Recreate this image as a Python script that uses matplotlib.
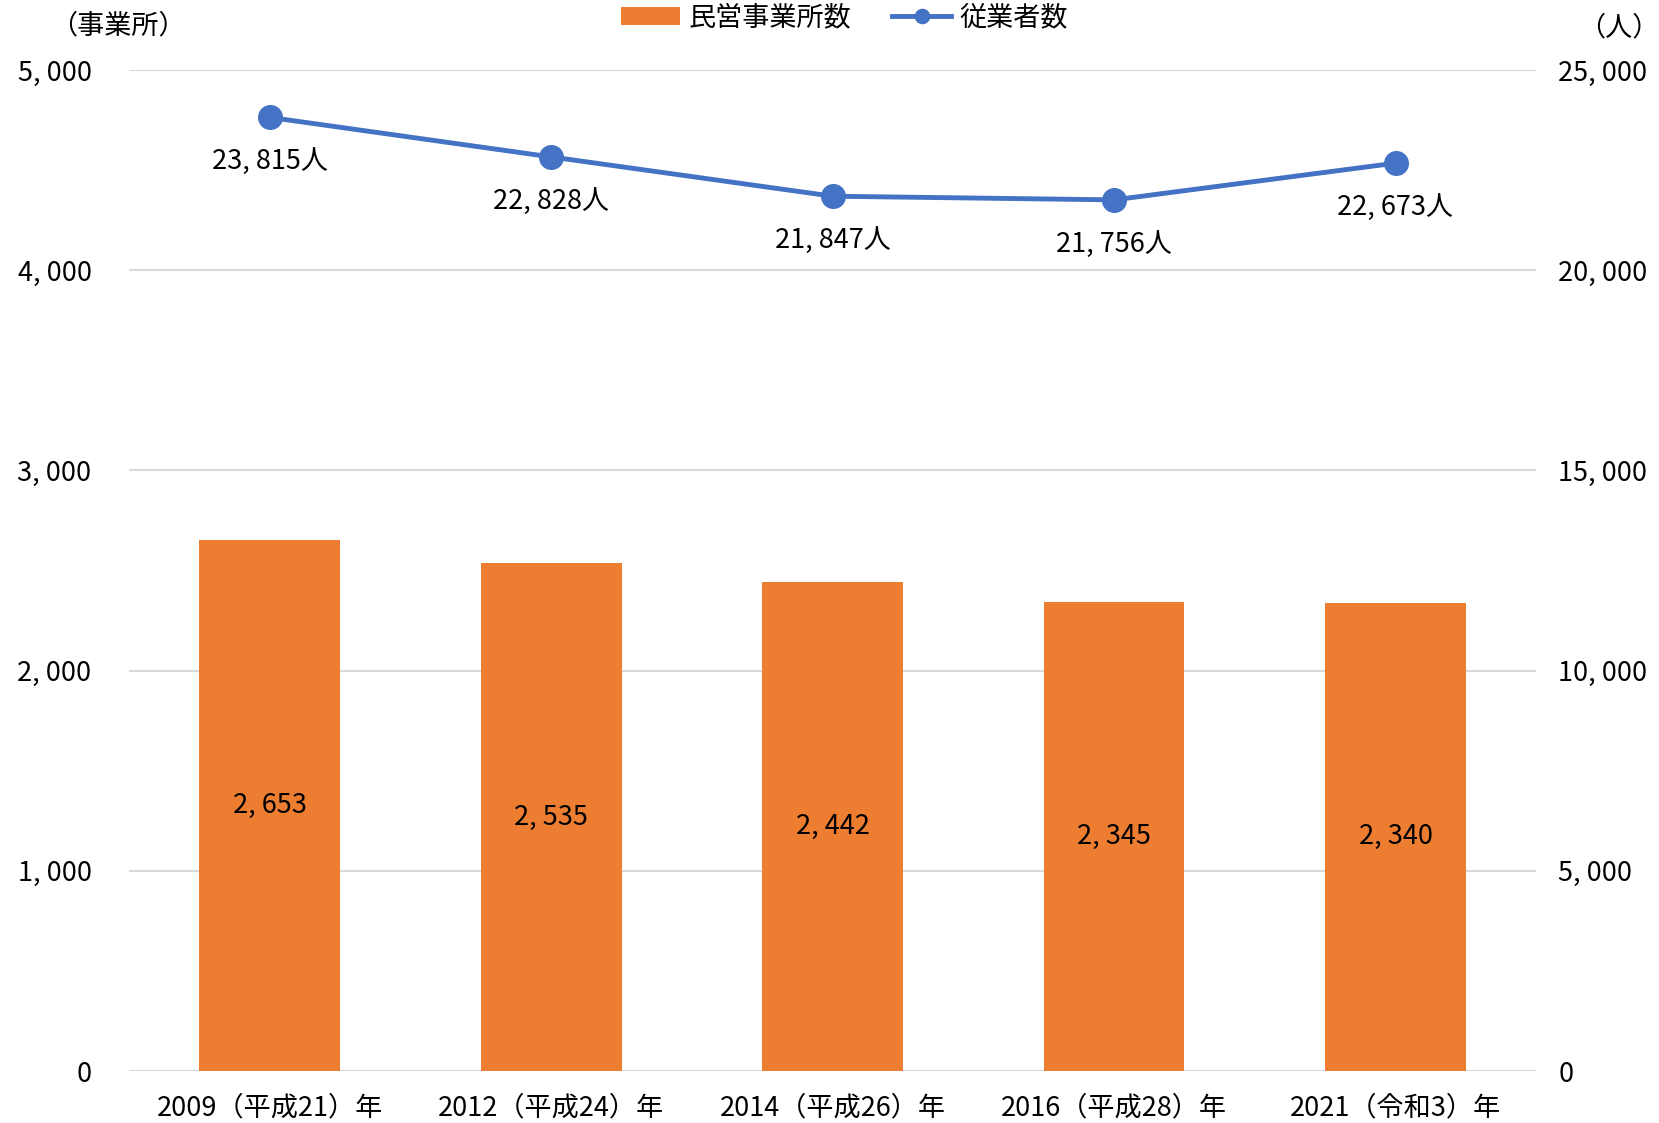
import matplotlib
matplotlib.use("Agg")
import matplotlib.pyplot as plt
from matplotlib.ticker import FuncFormatter

plt.rcParams["font.family"] = ["Noto Sans CJK JP", "DejaVu Sans"]

# data
years = ["2009（平成21）年", "2012（平成24）年", "2014（平成26）年", "2016（平成28）年", "2021（令和3）年"]
offices = [2653, 2535, 2442, 2345, 2340]
workers = [23815, 22828, 21847, 21756, 22673]

bar_color = "#ED7D31"
line_color = "#4472C4"
grid_color = "#D9D9D9"
fs = 19.5


def fmt(v):
    return f"{int(v):,}".replace(",", ", ")


fig = plt.figure(figsize=(16.59, 11.23), dpi=100)
ax = fig.add_axes([0.0778, 0.0463, 0.8482, 0.8914])
ax2 = ax.twinx()

x = list(range(len(years)))
ax.bar(x, offices, width=0.5, color=bar_color, zorder=2, label="民営事業所数")
for xi, v in zip(x, offices):
    ax.text(xi, v / 2, fmt(v), ha="center", va="center", fontsize=fs)

ax.set_ylim(0, 5000)
ax.set_yticks(range(0, 5001, 1000))
ax.yaxis.set_major_formatter(FuncFormatter(lambda v, p: fmt(v)))
ax.set_xlim(-0.5, len(years) - 0.5)
ax.set_xticks(x)
ax.set_xticklabels(years)
ax.grid(axis="y", color=grid_color, linewidth=1.5, zorder=0)
ax.set_axisbelow(True)

ax2.plot(x, workers, color=line_color, linewidth=3.5, marker="o", markersize=17,
         zorder=3, label="従業者数")
for xi, v in zip(x, workers):
    ax2.annotate(fmt(v) + "人", (xi, v), xytext=(0, -32), textcoords="offset points",
                 ha="center", va="center", fontsize=fs)
ax2.set_ylim(0, 25000)
ax2.set_yticks(range(0, 25001, 5000))
ax2.yaxis.set_major_formatter(FuncFormatter(lambda v, p: fmt(v)))

for a in (ax, ax2):
    for s in a.spines.values():
        s.set_visible(False)
    a.tick_params(length=0, labelsize=fs)
ax.tick_params(axis="y", pad=27)
ax2.tick_params(axis="y", pad=16)
ax.tick_params(axis="x", pad=17)
ax.axhline(0, color=grid_color, linewidth=2, zorder=1)

fig.text(0.071, 0.977, "（事業所）", ha="center", va="center", fontsize=fs)
fig.text(0.976, 0.975, "（人）", ha="center", va="center", fontsize=fs)

h1, l1 = ax.get_legend_handles_labels()
h2, l2 = ax2.get_legend_handles_labels()
fig.legend(h1 + h2, l1 + l2, loc="center", bbox_to_anchor=(0.509, 0.984), ncol=2,
           frameon=False, fontsize=fs, handlelength=2.2, handleheight=0.6,
           columnspacing=1.5, handletextpad=0.3, markerscale=0.6)

fig.savefig("out.png", dpi=100)
